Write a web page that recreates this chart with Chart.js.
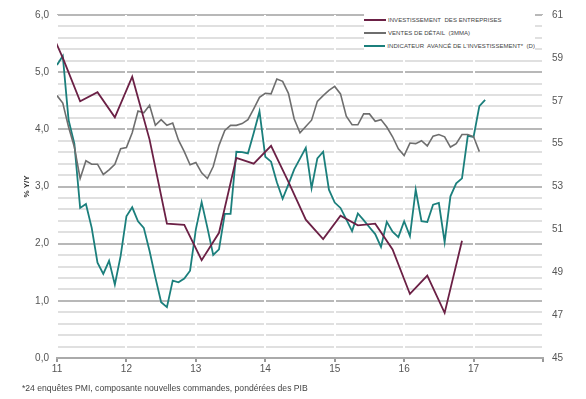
<!DOCTYPE html>
<html>
<head>
<meta charset="utf-8">
<script src="https://cdn.jsdelivr.net/npm/chart.js@4"></script>
<style>
  body { margin: 0; background: #fff; font-family: "Liberation Sans", Arial, sans-serif; }
  #wrap { position: relative; width: 586px; height: 399px; }
  #legend { position: absolute; left: 364px; top: 12px; width: 171px; background: #fff; padding: 1px 0; }
  .item { height: 13.4px; display: flex; align-items: center; font-size: 6px; color: #444; letter-spacing: 0.05px; white-space: nowrap; }
  .item span.sw { display: inline-block; width: 22px; height: 2px; margin-right: 2px; }
  #note { position: absolute; left: 22px; top: 383px; font-size: 8.6px; color: #444; }
</style>
</head>
<body>
<div id="wrap">
  <canvas id="chart" width="586" height="399"></canvas>
  <div id="legend">
    <div class="item"><span class="sw" style="background:#6b2045"></span>INVESTISSEMENT&nbsp; DES ENTREPRISES</div>
    <div class="item"><span class="sw" style="background:#6e6e6e"></span>VENTES DE DÉTAIL&nbsp; (3MMA)</div>
    <div class="item"><span class="sw" style="background:#1b7f7c"></span>INDICATEUR&nbsp; AVANCÉ DE L'INVESTISSEMENT*&nbsp; (D)</div>
  </div>
  <div id="note">*24 enquêtes PMI, composante nouvelles commandes, pondérées des PIB</div>
</div>
<script>
// months counted from Jan 2011 (0 = Jan 11)
const investMonths = [-2, 1, 4, 7, 10, 13, 16, 19, 22, 25, 28, 31, 34, 37, 40, 43, 46, 49, 52, 55, 58, 61, 64, 67, 70];
const investValues = [5.93, 5.25, 4.49, 4.65, 4.21, 4.92, 3.82, 2.35, 2.33, 1.71, 2.19, 3.50, 3.40, 3.71, 3.08, 2.42, 2.08, 2.49, 2.32, 2.35, 1.90, 1.12, 1.44, 0.79, 2.05];

// retail sales, monthly from Jan 11
const retailValues = [4.59, 4.46, 4.04, 3.69, 3.14, 3.45, 3.39, 3.39, 3.21, 3.29, 3.39, 3.66,
  3.68, 3.94, 4.32, 4.29, 4.42, 4.07, 4.17, 4.07, 4.11, 3.81, 3.61, 3.38,
  3.42, 3.24, 3.14, 3.35, 3.72, 3.98, 4.07, 4.07, 4.10, 4.17, 4.36, 4.56,
  4.63, 4.62, 4.88, 4.84, 4.63, 4.18, 3.94, 4.05, 4.16, 4.49, 4.59, 4.68,
  4.75, 4.62, 4.23, 4.08, 4.08, 4.27, 4.27, 4.14, 4.17, 4.04, 3.87, 3.66,
  3.54, 3.76, 3.75, 3.80, 3.71, 3.88, 3.91, 3.87, 3.69, 3.75, 3.91, 3.91,
  3.87, 3.61];

// leading investment indicator (right axis), monthly from Jan 11
const indicatorValues = [58.67, 59.09, 56.1, 55.0, 52.0, 52.18, 51.07, 49.45, 48.92, 49.53, 48.42, 49.76,
  51.61, 52.03, 51.38, 51.07, 49.99, 48.76, 47.60, 47.37, 48.61, 48.53, 48.71, 49.07,
  51.0, 52.27, 51.07, 49.81, 50.07, 51.72, 51.72, 54.62, 54.6, 54.54, 55.5, 56.50,
  54.39, 54.16, 53.2, 52.43, 53.1, 53.8, 54.3, 54.80, 52.92, 54.31, 54.62, 52.85,
  52.25, 52.0, 51.47, 50.92, 51.74, 51.43, 51.1, 50.78, 50.18, 51.35, 50.89, 50.64,
  51.38, 50.69, 52.85, 51.38, 51.34, 52.15, 52.23, 50.41, 52.54, 53.15, 53.38, 55.36,
  55.31, 56.75, 57.04];

const leftTicks = [0, 1, 2, 3, 4, 5, 6];
const rightTicks = [45, 47, 49, 51, 53, 55, 57, 59, 61];
const yearTicks = [11, 12, 13, 14, 15, 16, 17];

const toX = m => 11 + m / 12;
const isInt = v => Math.abs(v - Math.round(v)) < 1e-6;

const tickFont = { family: '"Liberation Sans", Arial, sans-serif', size: 10 };

new Chart(document.getElementById('chart'), {
  type: 'line',
  data: {
    datasets: [
      {
        label: 'Investissement des entreprises',
        data: investMonths.map((m, i) => ({ x: toX(m), y: investValues[i] })),
        borderColor: '#6b2045', borderWidth: 1.8, pointRadius: 0, yAxisID: 'y'
      },
      {
        label: 'Ventes de détail (3MMA)',
        data: retailValues.map((v, i) => ({ x: toX(i), y: v })),
        borderColor: '#6e6e6e', borderWidth: 1.6, pointRadius: 0, yAxisID: 'y'
      },
      {
        label: "Indicateur avancé de l'investissement* (D)",
        data: indicatorValues.map((v, i) => ({ x: toX(i), y: v })),
        borderColor: '#1b7f7c', borderWidth: 1.8, pointRadius: 0, yAxisID: 'y2'
      }
    ]
  },
  options: {
    responsive: false,
    animation: false,
    layout: { padding: { top: 10, left: 0, right: 0, bottom: 0 } },
    plugins: { legend: { display: false }, tooltip: { enabled: false } },
    scales: {
      x: {
        type: 'linear', min: 11, max: 18,
        afterFit: s => { s.height = 41; },
        afterBuildTicks: s => { s.ticks = yearTicks.concat([18]).map(v => ({ value: v })); },
        ticks: {
          font: tickFont, color: '#555', padding: 1,
          callback: v => (yearTicks.includes(v) ? String(v) : '')
        },
        grid: { color: '#ffffff', lineWidth: 2, tickColor: '#999', tickLength: 4, z: -1 },
        border: { display: true, color: '#aaa', width: 2 }
      },
      y: {
        position: 'left', min: 0, max: 6,
        afterFit: s => { s.width = 57; },
        ticks: {
          stepSize: 0.2, autoSkip: false, font: tickFont, color: '#555', padding: 8,
          callback: v => (leftTicks.some(t => isInt(v) && Math.round(v) === t) ? v.toFixed(1).replace('.', ',') : '')
        },
        grid: {
          drawTicks: false, lineWidth: 2, z: -2,
          color: ctx => (ctx.tick && isInt(ctx.tick.value) ? '#b8b8b8' : '#e0e0e0')
        },
        border: { display: false },
        title: { display: true, text: '% Y/Y', color: '#333', font: { family: '"Liberation Sans", Arial, sans-serif', size: 8, weight: 'bold' }, padding: { top: 22, bottom: 0 } }
      },
      y2: {
        position: 'right', min: 45, max: 61,
        afterFit: s => { s.width = 43; },
        afterBuildTicks: s => { s.ticks = rightTicks.map(v => ({ value: v })); },
        ticks: { font: tickFont, color: '#555', padding: 9 },
        grid: { display: false, drawTicks: false },
        border: { display: false }
      }
    }
  }
});
</script>
</body>
</html>
